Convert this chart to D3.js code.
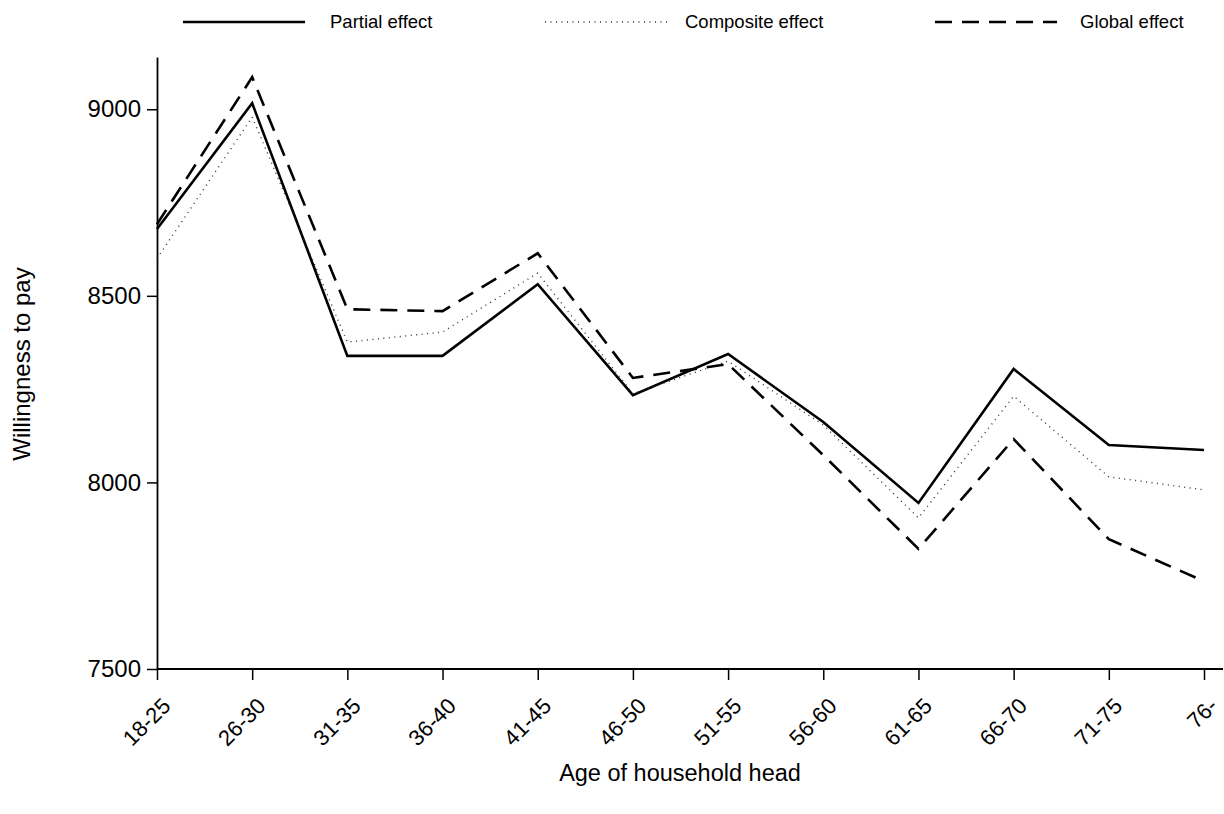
<!DOCTYPE html>
<html><head><meta charset="utf-8">
<script src="https://cdn.jsdelivr.net/npm/d3@7"></script>
<style>body{margin:0;background:#fff;} svg{display:block;font-family:"Liberation Sans",Arial,sans-serif;}</style>
</head><body>
<svg id="c" width="1224" height="814"></svg>
<script>
const categories = ["18-25","26-30","31-35","36-40","41-45","46-50","51-55","56-60","61-65","66-70","71-75","76-"];
const partial   = [8679, 9016, 8339, 8339, 8531, 8234, 8344, 8162, 7945, 8304, 8100, 8087];
const composite = [8600, 8979, 8376, 8403, 8561, 8238, 8325, 8154, 7905, 8231, 8015, 7980];
const global    = [8692, 9086, 8464, 8459, 8614, 8280, 8317, 8073, 7822, 8116, 7848, 7735];
const yTicks = [7500, 8000, 8500, 9000];
const seriesNames = ["Partial effect","Composite effect","Global effect"];

const svg = d3.select("#c");
const x = d3.scalePoint().domain(categories).range([157, 1204]);
const y = d3.scaleLinear().domain([7500, 9140]).range([669, 57]);

const styles = [
  {w:2.6, dash:null, color:"#000"},
  {w:1.4, dash:"1,4.5", color:"#333"},
  {w:2.6, dash:"17,10", color:"#000"}
];
const data = [partial, composite, global];

// axes
const yAxis = d3.axisLeft(y).tickValues(yTicks).tickFormat(d3.format("d")).tickSize(10).tickSizeOuter(0).tickPadding(6);
const gy = svg.append("g").attr("transform","translate(157,0)").call(yAxis);
gy.attr("font-family",null).attr("font-size",null);
gy.select(".domain").attr("stroke","#000").attr("stroke-width",1.8);
gy.selectAll(".tick line").attr("stroke","#000").attr("stroke-width",1.5);
gy.selectAll(".tick text").attr("font-size",24).attr("fill","#000");

const xAxis = d3.axisBottom(x).tickSize(11).tickSizeOuter(0);
const gx = svg.append("g").attr("transform","translate(0,669)").call(xAxis);
gx.attr("font-family",null).attr("font-size",null);
gx.select(".domain").remove();
svg.append("line").attr("x1",157).attr("x2",1223).attr("y1",669).attr("y2",669).attr("stroke","#000").attr("stroke-width",1.8);
gx.selectAll(".tick line").attr("stroke","#000").attr("stroke-width",1.5);
gx.selectAll(".tick text").attr("font-size",22).attr("fill","#000")
  .attr("text-anchor","end").attr("dy","0.35em")
  .attr("transform","translate(-1,23) rotate(-45)");

// lines
const line = d3.line().x((d,i)=>x(categories[i])).y(d=>y(d));
data.forEach((s,k)=>{
  svg.append("path").datum(s).attr("d",line).attr("fill","none")
    .attr("stroke",styles[k].color).attr("stroke-width",styles[k].w)
    .attr("stroke-dasharray",styles[k].dash).attr("stroke-linejoin","miter");
});

// titles
svg.append("text").attr("x",680).attr("y",781).attr("text-anchor","middle").attr("font-size",23.5).text("Age of household head");
svg.append("text").attr("transform","translate(30,364) rotate(-90)").attr("text-anchor","middle").attr("font-size",24).text("Willingness to pay");

// legend
const legX = [183, 545, 935];
const legTextX = [330, 685, 1080];
seriesNames.forEach((n,k)=>{
  svg.append("line").attr("x1",legX[k]).attr("x2",legX[k]+122).attr("y1",22).attr("y2",22)
    .attr("stroke",styles[k].color).attr("stroke-width",styles[k].w).attr("stroke-dasharray",styles[k].dash);
  svg.append("text").attr("x",legTextX[k]).attr("y",28).attr("font-size",18.5).text(n);
});
</script>
</body></html>
